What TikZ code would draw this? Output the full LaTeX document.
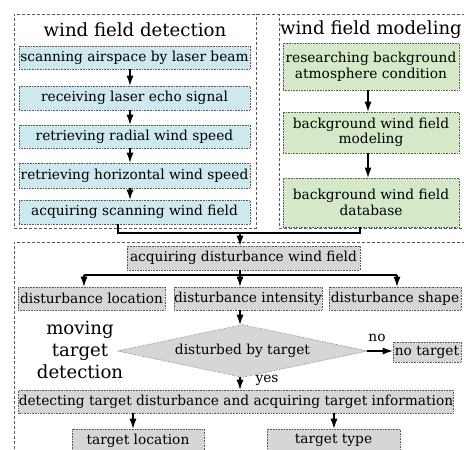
\documentclass[tikz,border=0pt]{standalone}
\usepackage{fontspec}
\setmainfont{DejaVu Serif}
\usetikzlibrary{arrows.meta,shapes.geometric}
\definecolor{bluefill}{RGB}{205,232,238}
\definecolor{greenfill}{RGB}{213,232,200}
\definecolor{grayfill}{RGB}{214,214,214}
\definecolor{edgegray}{RGB}{90,90,90}
\tikzset{
  boxbase/.style={draw=edgegray, densely dotted, line width=0.6bp, inner sep=0pt, align=center,
    font=\fontsize{13.8}{15.5}\selectfont, text=black},
  bluebox/.style={boxbase, fill=bluefill},
  greenbox/.style={boxbase, fill=greenfill},
  graybox/.style={boxbase, fill=grayfill},
  frame/.style={draw=edgegray, dashed, dash pattern=on 3bp off 2bp, line width=0.7bp},
  titletext/.style={font=\fontsize{18.2}{22.5}\selectfont, inner sep=0pt, align=center},
  arr/.style={-{Latex[length=10bp,width=7bp]}, line width=1.1bp},
  ln/.style={line width=1.1bp},
  lbl/.style={font=\fontsize{13.8}{15.5}\selectfont, inner sep=0pt}
}
\begin{document}
\begin{tikzpicture}[x=1bp,y=-1bp]
\useasboundingbox (0,0) rectangle (464,450);
% frames
\draw[frame] (465,14) -- (14,14) -- (14,228) -- (256,228) -- (256,14);
\draw[frame] (465,14) -- (279,14) -- (279,228) -- (465,228);
\draw[frame] (465,242) -- (14,242) -- (14,455);
% titles
\node[titletext] (t1) at (135,30) {wind field detection};
\node[titletext] (t2) at (371,30) {wind field modeling};
\node[titletext] (t3) at (80,350) {moving\\target\\detection};
% blue boxes
\node[bluebox, minimum width=231bp, minimum height=23bp] (b1) at (134.5,57.5) {scanning airspace by laser beam};
\node[bluebox, minimum width=231bp, minimum height=24bp] (b2) at (134.5,98) {receiving laser echo signal};
\node[bluebox, minimum width=231bp, minimum height=23bp] (b3) at (134.5,136.5) {retrieving radial wind speed};
\node[bluebox, minimum width=231bp, minimum height=25bp] (b4) at (134.5,175.5) {retrieving horizontal wind speed};
\node[bluebox, minimum width=231bp, minimum height=24bp] (b5) at (134.5,212) {acquiring scanning wind field};
% green boxes
\node[greenbox, minimum width=176bp, minimum height=47bp] (g1) at (371,66.5) {researching background\\atmosphere condition};
\node[greenbox, minimum width=176bp, minimum height=41bp] (g2) at (371,132.5) {background wind field\\modeling};
\node[greenbox, minimum width=176bp, minimum height=49bp] (g3) at (371,202.5) {background wind field\\database};
% gray boxes
\node[graybox, minimum width=233bp, minimum height=24bp] (acq) at (243.5,258) {acquiring disturbance wind field};
\node[graybox, minimum width=147bp, minimum height=23bp] (dl) at (91.5,298.5) {disturbance location};
\node[graybox, minimum width=148bp, minimum height=23bp] (di) at (248,298.5) {disturbance intensity};
\node[graybox, minimum width=132bp, minimum height=23bp] (ds) at (395,298.5) {disturbance shape};
\node[graybox, diamond, solid, draw=none, minimum width=249bp, minimum height=52bp, aspect=4.8] (dia) at (242.5,351) {};
\draw[edgegray, densely dotted, line width=0.6bp] (dia.north) -- (dia.east) -- (dia.south) -- (dia.west) -- cycle;
\node[lbl] (diat) at (242.5,351) {disturbed by target};
\node[graybox, minimum width=68bp, minimum height=20bp] (nt) at (427,352) {no target};
\node[graybox, minimum width=430bp, minimum height=23bp] (det) at (236,401.5) {detecting target disturbance and acquiring target information};
\node[graybox, minimum width=132bp, minimum height=23bp] (tl) at (138,440.5) {target location};
\node[graybox, minimum width=133bp, minimum height=23bp] (tt) at (333.5,440.5) {target type};
% labels
\node[lbl] (no) at (377,338) {no};
\node[lbl] (yes) at (267,380) {yes};
% connectors left column
\draw[arr] (b1.south -| 130,0) -- (b2.north -| 130,0);
\draw[arr] (b2.south -| 130,0) -- (b3.north -| 130,0);
\draw[arr] (b3.south -| 130,0) -- (b4.north -| 130,0);
\draw[arr] (b4.south -| 130,0) -- (b5.north -| 130,0);
% right column
\draw[arr] (g1.south -| 368,0) -- (g2.north -| 368,0);
\draw[arr] (g2.south -| 368,0) -- (g3.north -| 368,0);
% merge
\coordinate (m) at (240,233);
\draw[ln] (b5.south -| 118,0) |- (m);
\draw[ln] (g3.south -| 360,0) |- (m);
\draw[arr] (m) -- (acq.north -| m);
% split
\coordinate (s) at (240,275);
\draw[ln] (acq.south -| s) -- (s);
\draw[ln] (84,275) -- (397,275);
\draw[arr] (84,275) -- (dl.north -| 84,0);
\draw[arr] (s) -- (di.north -| s);
\draw[arr] (397,275) -- (ds.north -| 397,0);
% decision
\draw[arr] (di.south -| 240,0) -- (dia.north -| 240,0);
\draw[arr] (dia.east) -- (nt.west |- dia.east);
\draw[arr] (dia.south -| 240,0) -- (det.north -| 240,0);
\draw[arr] (det.south -| 133,0) -- (tl.north -| 133,0);
\draw[arr] (det.south -| 334,0) -- (tt.north -| 334,0);
\end{tikzpicture}
\end{document}
